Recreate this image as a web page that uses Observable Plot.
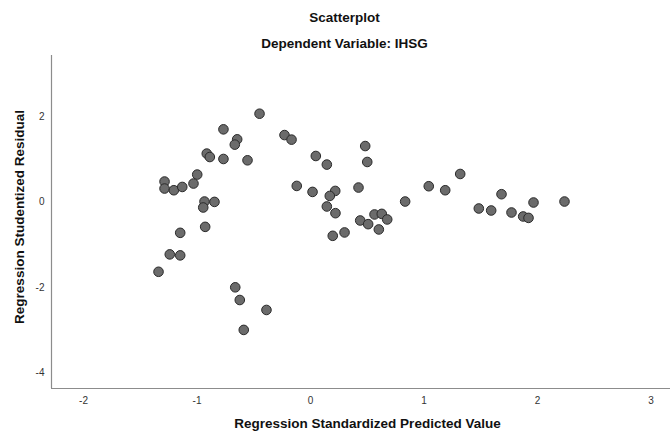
<!DOCTYPE html>
<html>
<head>
<meta charset="utf-8">
<script src="https://cdn.jsdelivr.net/npm/d3@7"></script>
<script src="https://cdn.jsdelivr.net/npm/@observablehq/plot@0.6"></script>
<style>
  html, body { margin: 0; padding: 0; background: #fff; }
</style>
</head>
<body>
<div id="chart"></div>
<script>
// Regression Standardized Predicted Value (x)
const predicted = [
  -0.449, -0.767, -0.646, -0.667, -0.914, -0.887, -0.767, -0.555, -0.998, -1.286,
  -1.031, -1.286, -1.204, -1.130, -0.934, -0.846, -0.945, -0.928, -1.148, -0.229,
  -0.167, 0.482, 0.047, 0.144, 0.500, -0.121, 0.018, 0.218, 0.170, 0.423,
  0.144, 0.220, 0.438, 0.508, 0.564, 0.628, 0.676, 0.602, 0.300, 0.196,
  0.834, 1.042, 1.187, 1.319, 1.683, 1.483, 1.592, 1.771, 1.874, 1.921,
  1.965, 2.238, -1.240, -1.148, -1.339, -0.663, -0.623, -0.388, -0.588
];
// Regression Studentized Residual (y)
const residual = [
  2.065, 1.699, 1.465, 1.341, 1.131, 1.051, 1.005, 0.974, 0.640, 0.477,
  0.430, 0.313, 0.273, 0.350, 0.009, 0.000, -0.131, -0.584, -0.724, 1.565,
  1.458, 1.308, 1.075, 0.874, 0.935, 0.374, 0.234, 0.257, 0.140, 0.336,
  -0.107, -0.264, -0.435, -0.521, -0.294, -0.280, -0.411, -0.645, -0.715, -0.794,
  0.009, 0.367, 0.273, 0.654, 0.180, -0.154, -0.201, -0.248, -0.341, -0.374,
  -0.014, 0.009, -1.229, -1.252, -1.636, -2.000, -2.297, -2.530, -2.997
];
const xTicks = [-2, -1, 0, 1, 2, 3];
const yTicks = [-4, -2, 0, 2];
const titleText = "Scatterplot";
const subtitleText = "Dependent Variable: IHSG";
const xLabel = "Regression Standardized Predicted Value";
const yLabel = "Regression Studentized Residual";

const points = predicted.map((x, i) => ({x, y: residual[i]}));
const xDomain = [-2.282, 3.172];
const yDomain = [-4.369, 3.428];

const labelStyle = {fontSize: 13.5, fontWeight: "bold", fill: "#111", text: d => d, textAnchor: "middle", lineAnchor: "middle"};

const chart = Plot.plot({
  width: 670,
  height: 432,
  marginLeft: 51,
  marginRight: 0,
  marginTop: 55,
  marginBottom: 44,
  style: {fontFamily: "'Liberation Sans', Arial, sans-serif", background: "#fff", overflow: "visible"},
  x: {domain: xDomain},
  y: {domain: yDomain},
  marks: [
    Plot.axisX(xTicks, {tickSize: 0, tickPadding: 8, fontSize: 10, fill: "#333", tickFormat: d => String(d), label: null}),
    Plot.axisY(yTicks, {tickSize: 0, tickPadding: 7, fontSize: 10, fill: "#333", tickFormat: d => String(d), label: null}),
    Plot.ruleX([xDomain[0]], {stroke: "#8c8c8c", strokeWidth: 1.2}),
    Plot.ruleY([yDomain[0]], {stroke: "#8c8c8c", strokeWidth: 1.2}),
    Plot.dot(points, {x: "x", y: "y", r: 4.8, fill: "#6b6b6b", stroke: "#2a2a2a", strokeWidth: 1}),
    Plot.text([titleText], {...labelStyle, frameAnchor: "top", dx: -16.5, dy: -38}),
    Plot.text([subtitleText], {...labelStyle, frameAnchor: "top", dx: -16.5, dy: -12}),
    Plot.text([xLabel], {...labelStyle, frameAnchor: "bottom", dx: 6.5, dy: 35}),
    Plot.text([yLabel], {...labelStyle, frameAnchor: "left", rotate: -90, dx: -31.7, dy: -5})
  ]
});
document.getElementById("chart").appendChild(chart);
</script>
</body>
</html>
